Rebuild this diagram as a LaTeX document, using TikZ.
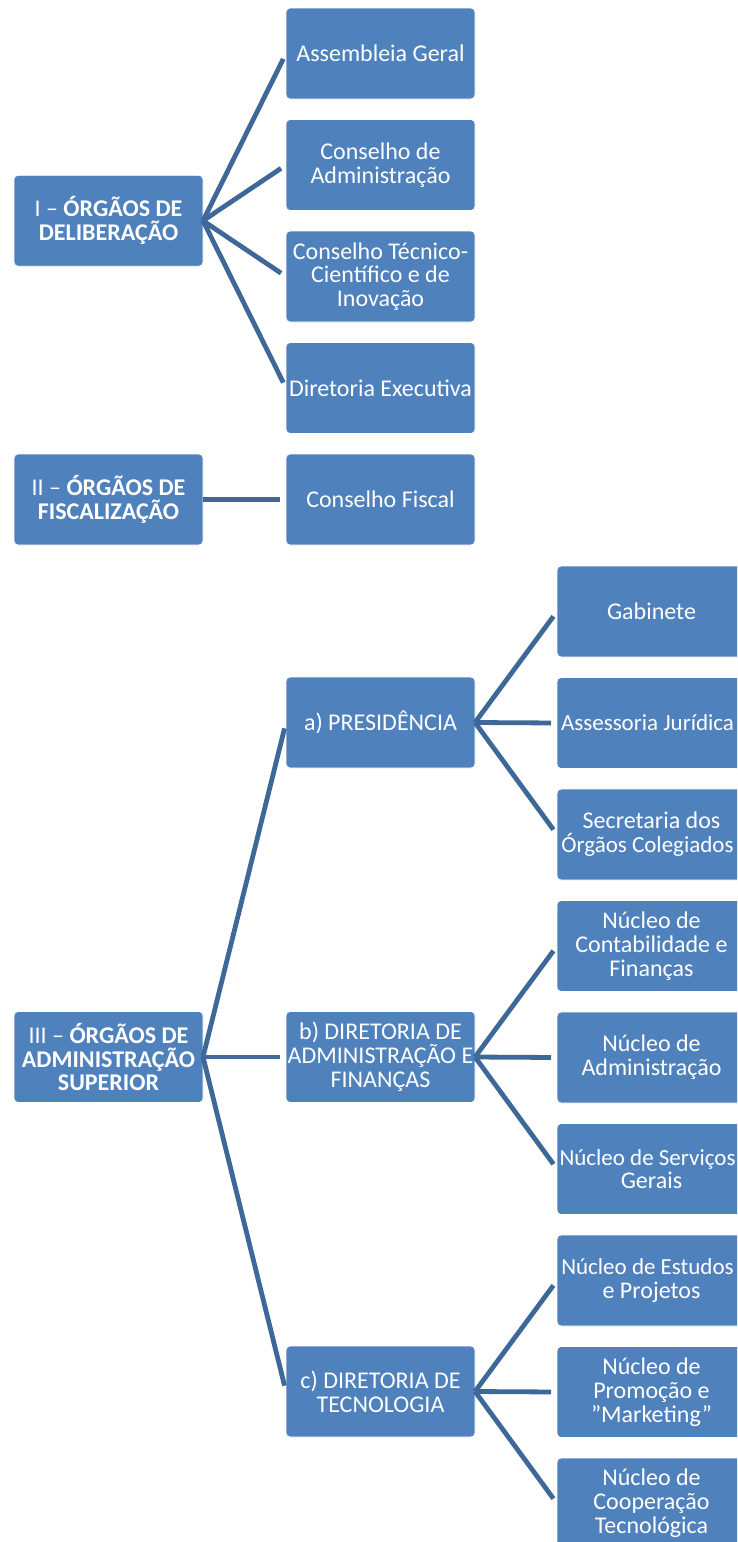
\documentclass[tikz,border=0pt]{standalone}
\usepackage{fontspec}
\setmainfont{Carlito}
\usetikzlibrary{positioning}
\definecolor{boxblue}{RGB}{79,129,189}
\definecolor{linkblue}{RGB}{62,104,152}
\newcommand{\wideline}[1]{\makebox[0pt]{#1}}
\newcommand{\edgeline}[1]{\makebox[0pt]{\hspace*{-8pt}\fontsize{23}{23.8}\selectfont #1}}

\begin{document}
\begin{tikzpicture}[
  x=1pt, y=-1pt,
  box/.style={draw=white, line width=0.8pt, fill=boxblue, text=white,
              rounded corners=4pt, align=center, inner sep=0pt, outer sep=0pt,
              minimum width=189pt, minimum height=91pt,
              font=\fontsize{24}{23.8}\selectfont},
  link/.style={draw=linkblue, line width=4.8pt, shorten >=6pt}
]
\useasboundingbox (0,0) rectangle (737,1542);
\clip (0,0) rectangle (737,1542);

% I - deliberation bodies
\node[box] (delib) at (108.5,220.75) {I – \textbf{ÓRGÃOS DE}\\\textbf{DELIBERAÇÃO}};
\node[box, anchor=west] (assembleia) at (286,53.5) {Assembleia Geral};
\node[box, below=20.5pt of assembleia] (consadm) {Conselho de\\Administração};
\node[box, below=20.5pt of consadm] (constec)
  {Conselho Técnico-\\Científico e de\\Inovação};
\node[box, below=20.5pt of constec] (direxec) {Diretoria Executiva};
\foreach \n in {assembleia,consadm,constec,direxec}
  \draw[link] (delib.east) -- (\n.west);

% II - supervisory bodies
\node[box] (fiscaliz) at (108.5,499.5) {II – \textbf{ÓRGÃOS DE}\\\textbf{FISCALIZAÇÃO}};
\node[box, anchor=west] (consfisc) at (286,499.5) {Conselho Fiscal};
\draw[link] (fiscaliz.east) -- (consfisc.west);

% III - senior administration
\node[box] (admsup) at (108.5,1057)
  {III – \textbf{ÓRGÃOS DE}\\\wideline{\textbf{ADMINISTRAÇÃO}}\\\textbf{SUPERIOR}};
\node[box, anchor=west] (presid) at (286,722.5) {a) PRESIDÊNCIA};
\node[box, anchor=west] (diradm) at (286,1057)
  {b) DIRETORIA DE\\\wideline{ADMINISTRAÇÃO E}\\FINANÇAS};
\node[box, anchor=west] (dirtec) at (286,1391.5) {c) DIRETORIA DE\\TECNOLOGIA};
\foreach \n in {presid,diradm,dirtec}
  \draw[link] (admsup.east) -- (\n.west);

% Third level units
\node[box, anchor=west] (gabinete) at (557,611.5) {Gabinete};
\node[box, below=20.5pt of gabinete] (assessoria) {\edgeline{Assessoria Jurídica}};
\node[box, below=20.5pt of assessoria] (secretaria)
  {Secretaria dos\\\edgeline{Órgãos Colegiados}};
\node[box, below=20.5pt of secretaria] (contab) {Núcleo de\\Contabilidade e\\Finanças};
\node[box, below=20.5pt of contab] (nucadm) {Núcleo de\\Administração};
\node[box, below=20.5pt of nucadm] (servicos) {\edgeline{Núcleo de Serviços}\\Gerais};
\node[box, below=20.5pt of servicos] (estudos) {\edgeline{Núcleo de Estudos}\\e Projetos};
\node[box, below=20.5pt of estudos] (promocao) {Núcleo de\\Promoção e\\”Marketing”};
\node[box, below=20.5pt of promocao] (cooper) {Núcleo de\\Cooperação\\Tecnológica};

\foreach \n in {gabinete,assessoria,secretaria}
  \draw[link] (presid.east) -- (\n.west);
\foreach \n in {contab,nucadm,servicos}
  \draw[link] (diradm.east) -- (\n.west);
\foreach \n in {estudos,promocao,cooper}
  \draw[link] (dirtec.east) -- (\n.west);

\end{tikzpicture}
\end{document}
